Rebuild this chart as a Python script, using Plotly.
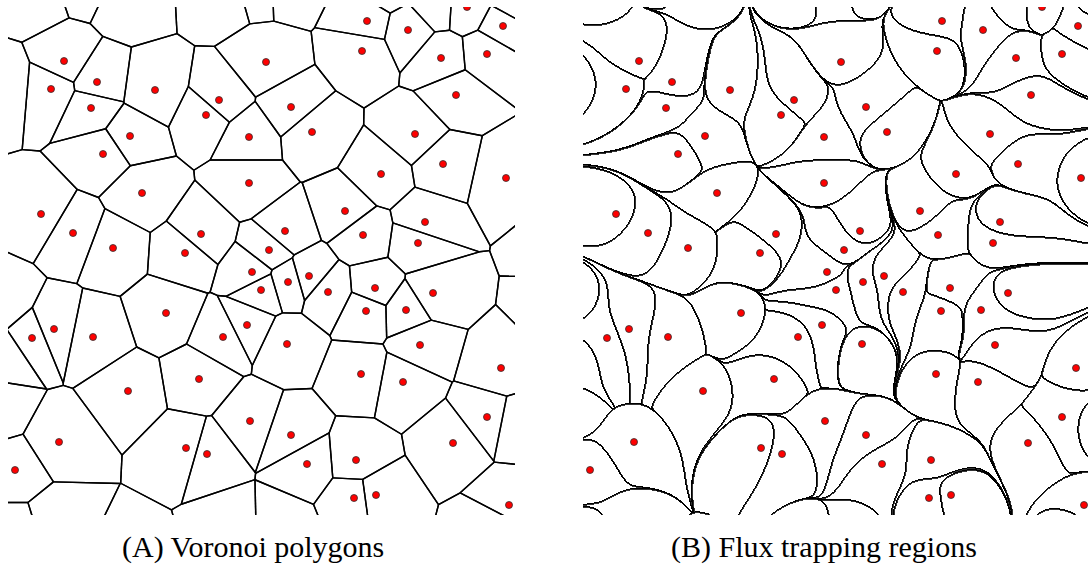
import numpy as np
import plotly.graph_objects as go

# ---------------- data: pinning-site positions (pixel units of a panel, y downward) -------------
site_x = [64, 97, 51, 155, 219, 91, 206, 130, 249, 103, 142, 249, 41, 73, 113, 185, 201, 266,
          367, 408, 503, 487, 441, 362, 456, 291, 312, 415, 443, 381, 506, 345, 425, 285, 363,
          418, 269, 252, 261, 309, 288, 328, 375, 433, 366, 406, 166, 54, 32, 93, 223, 247,
          287, 420, 501, 361, 403, 199, 128, 250, 487, 291, 453, 59, 186, 207, 15, 307, 356,
          354, 376, 509, 467]
site_y = [61, 82, 89, 90, 100, 108, 115, 136, 137, 154, 193, 183, 214, 233, 248, 253, 234, 62,
          21, 30, 26, 54, 58, 51, 95, 107, 132, 134, 164, 174, 178, 211, 222, 231, 235,
          243, 250, 272, 290, 276, 282, 292, 288, 293, 311, 310, 313, 329, 338, 337, 337, 325,
          344, 345, 368, 374, 382, 379, 391, 421, 417, 435, 443, 442, 448, 454, 470, 464, 460,
          498, 495, 505, 7]

# sites just outside the visible frame (estimated from the cells that reach the border)
outer_x = [31, 86, 128, 222, 257, 288, 386, 435, 515, 4, 2, 5, -3, 15, 57, 129, 232, 280,
           498, 517, 560, 559]
outer_y = [-3, -22, -2, -7, -17, -18, -11, 5, 4, 85, 303, 356, 408, 535, 522, 557, 529, 528,
           526, 423, 245, 309]

captions = ["(A) Voronoi polygons", "(B) Flux trapping regions"]

# ---------------- geometry helpers ----------------
FRAME_X = (8, 515)
FRAME_Y = (7, 515)
all_x = np.array(site_x + outer_x, float)
all_y = np.array(site_y + outer_y, float)
N = len(all_x)


def clip(poly, a, b, c):
    out = []
    n = len(poly)
    for k in range(n):
        P = poly[k]
        Q = poly[(k + 1) % n]
        fp = a * P[0] + b * P[1] - c
        fq = a * Q[0] + b * Q[1] - c
        if fp <= 0:
            out.append(P)
        if fp * fq < 0:
            t = fp / (fp - fq)
            out.append((P[0] + t * (Q[0] - P[0]), P[1] + t * (Q[1] - P[1])))
    return out


# Voronoi cells by half-plane intersection
seg_x, seg_y = [], []
for i in range(N):
    poly = [(-200.0, -200.0), (720.0, -200.0), (720.0, 720.0), (-200.0, 720.0)]
    for j in range(N):
        if i == j:
            continue
        a = all_x[j] - all_x[i]
        b = all_y[j] - all_y[i]
        mx = 0.5 * (all_x[j] + all_x[i])
        my = 0.5 * (all_y[j] + all_y[i])
        poly = clip(poly, a, b, a * mx + b * my)
        if not poly:
            break
    for k in range(len(poly)):
        P = poly[k]
        Q = poly[(k + 1) % len(poly)]
        seg_x += [P[0], Q[0], None]
        seg_y += [P[1], Q[1], None]

# ---------------- flux trapping regions: basins of a screened-log potential ----------------
lam = 55.0
X0, X1, Y0, Y1 = -40, 570, -40, 580
gxs = np.arange(X0, X1 + 1, dtype=float)
gys = np.arange(Y0, Y1 + 1, dtype=float)
GX, GY = np.meshgrid(gxs, gys)
gx = np.zeros_like(GX)
gy = np.zeros_like(GY)
for px_, py_ in zip(all_x, all_y):
    dx = GX - px_
    dy = GY - py_
    s = dx * dx + dy * dy + 1e-6
    w = lam * lam / (s * (s + lam * lam))
    gx += w * dx
    gy += w * dy
nyg, nxg = gx.shape

vis_x = np.arange(FRAME_X[0], 513) + 0.5
vis_y = np.arange(FRAME_Y[0], FRAME_Y[1]) + 0.5
PX, PY = np.meshgrid(vis_x, vis_y)
px = PX.ravel().copy()
py = PY.ravel().copy()
h = 2.0
for _ in range(170):
    fx = np.clip(px - X0, 0, nxg - 1.001)
    fy = np.clip(py - Y0, 0, nyg - 1.001)
    ix = fx.astype(int)
    iy = fy.astype(int)
    tx = fx - ix
    ty = fy - iy
    ux = (gx[iy, ix] * (1 - tx) + gx[iy, ix + 1] * tx) * (1 - ty) + \
         (gx[iy + 1, ix] * (1 - tx) + gx[iy + 1, ix + 1] * tx) * ty
    uy = (gy[iy, ix] * (1 - tx) + gy[iy, ix + 1] * tx) * (1 - ty) + \
         (gy[iy + 1, ix] * (1 - tx) + gy[iy + 1, ix + 1] * tx) * ty
    nrm = np.hypot(ux, uy) + 1e-15
    px -= h * ux / nrm
    py -= h * uy / nrm

best = np.full(px.shape, np.inf)
lab = np.zeros(px.shape, int)
for k in range(N):
    d = (px - all_x[k]) ** 2 + (py - all_y[k]) ** 2
    m = d < best
    best[m] = d[m]
    lab[m] = k
L = lab.reshape(PX.shape)
dh = (L[:, 1:] != L[:, :-1]).astype(float)
dv = (L[1:, :] != L[:-1, :]).astype(float)
B = np.zeros(L.shape)
B[:, :-1] = np.maximum(B[:, :-1], dh)
B[:, 1:] = np.maximum(B[:, 1:], 0.8 * dh)
B[:-1, :] = np.maximum(B[:-1, :], dv)
B[1:, :] = np.maximum(B[1:, :], 0.8 * dv)

# ---------------- figure ----------------
W, H = 1088, 569
fig = go.Figure()
fig.add_trace(go.Scatter(x=seg_x, y=seg_y, mode="lines", line=dict(color="black", width=1.4),
                         hoverinfo="skip", xaxis="x", yaxis="y"))
fig.add_trace(go.Heatmap(z=B, x0=vis_x[0], dx=1, y0=vis_y[0], dy=1, xaxis="x2", yaxis="y2",
                         colorscale=[[0, "rgba(255,255,255,0)"], [0.5, "rgba(0,0,0,0.5)"],
                                     [1, "rgb(0,0,0)"]],
                         zmin=0, zmax=1, showscale=False, hoverinfo="skip", zsmooth=False))
marker = dict(color="#ff0000", size=7, line=dict(color="#303030", width=0.8))
fig.add_trace(go.Scatter(x=site_x, y=site_y, mode="markers", marker=marker, hoverinfo="skip",
                         xaxis="x", yaxis="y"))
fig.add_trace(go.Scatter(x=site_x, y=site_y, mode="markers", marker=marker, hoverinfo="skip",
                         xaxis="x2", yaxis="y2"))

ydom = [1 - FRAME_Y[1] / H, 1 - FRAME_Y[0] / H]
ax = dict(visible=False, showgrid=False, zeroline=False, fixedrange=True)
fig.update_layout(
    width=W, height=H, margin=dict(l=0, r=0, t=0, b=0),
    paper_bgcolor="white", plot_bgcolor="white", showlegend=False,
    xaxis=dict(domain=[FRAME_X[0] / W, FRAME_X[1] / W], range=list(FRAME_X), **ax),
    yaxis=dict(domain=ydom, range=[FRAME_Y[1], FRAME_Y[0]], **ax),
    xaxis2=dict(domain=[583 / W, 1.0], range=[FRAME_X[0], 513], **ax),
    yaxis2=dict(domain=ydom, range=[FRAME_Y[1], FRAME_Y[0]], **ax),
    annotations=[
        dict(text=captions[0], x=253 / W, y=1 - 547 / H, xref="paper", yref="paper",
             showarrow=False, xanchor="center", yanchor="middle",
             font=dict(family="Liberation Serif", size=30, color="black")),
        dict(text=captions[1], x=824 / W, y=1 - 547 / H, xref="paper", yref="paper",
             showarrow=False, xanchor="center", yanchor="middle",
             font=dict(family="Liberation Serif", size=30, color="black")),
    ],
)
fig.write_html("out.html")
